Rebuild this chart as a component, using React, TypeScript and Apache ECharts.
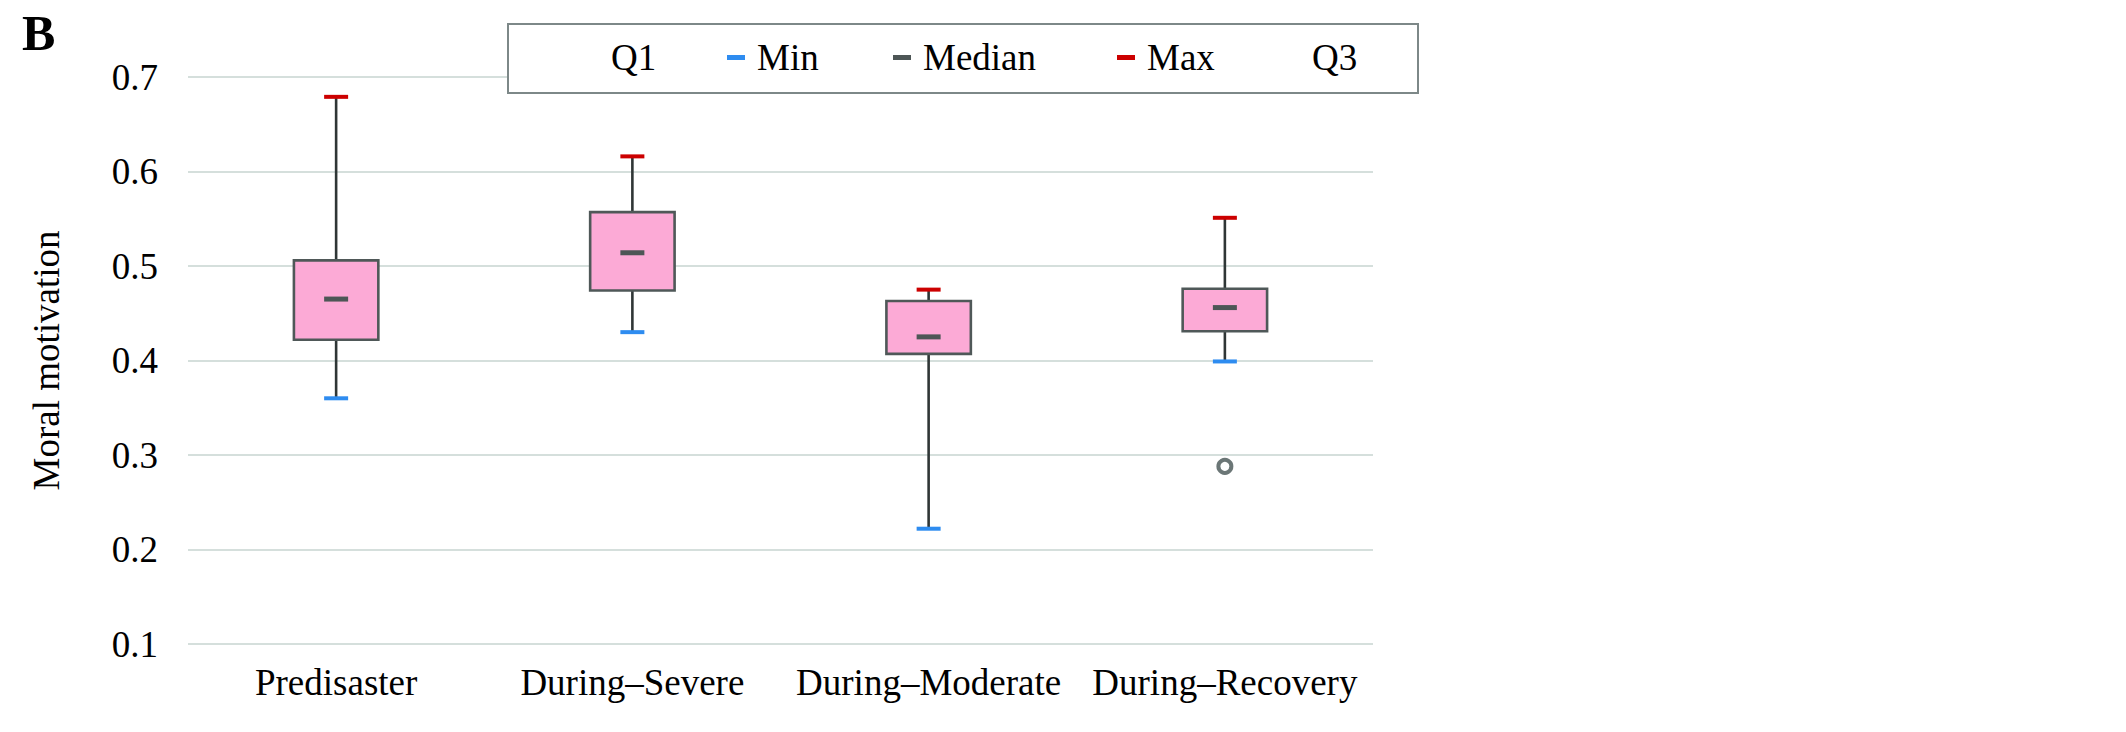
import React, { useEffect, useRef } from 'react';
import * as echarts from 'echarts';

const categories = ['Predisaster', 'During–Severe', 'During–Moderate', 'During–Recovery'];
const minValues = [0.36, 0.43, 0.222, 0.399];
const q1Values = [0.422, 0.474, 0.407, 0.431];
const medianValues = [0.465, 0.514, 0.425, 0.456];
const q3Values = [0.506, 0.557, 0.463, 0.476];
const maxValues = [0.679, 0.616, 0.475, 0.551];
const outlierPoints = [[3, 0.288]];
const yMin = 0.1;
const yMax = 0.7;
const yInterval = 0.1;
const legendNames = ['Q1', 'Min', 'Median', 'Max', 'Q3'];
const legendLefts = [581, 727, 893, 1117, 1282];

const FONT = '"Liberation Serif", "Times New Roman", serif';
const FS = 37;

export default function App() {
  const ref = useRef<HTMLDivElement>(null);
  useEffect(() => {
    if (!ref.current) return;
    const chart = echarts.init(ref.current, undefined, { renderer: 'svg' });

    const legendStyle: any = {
      Q1: { opacity: 0 },
      Min: { color: '#2e8cf0' },
      Median: { color: '#4d5656' },
      Max: { color: '#cc0000' },
      Q3: { opacity: 0 },
    };

    const legends = legendNames.map((name, i) => ({
      left: legendLefts[i],
      top: 39,
      padding: 0,
      z: 5,
      icon: 'rect',
      itemWidth: 18,
      itemHeight: 5,
      selectedMode: false,
      data: [{ name, itemStyle: legendStyle[name] }],
      textStyle: { fontSize: FS, fontFamily: FONT, color: '#000', lineHeight: 36, padding: [0, 0, 0, 7] },
    }));

    const option: any = {
      animation: false,
      backgroundColor: '#fff',
      textStyle: { fontFamily: FONT },
      legend: legends,
      graphic: [
        {
          type: 'rect',
          z: 3,
          shape: { x: 508, y: 24, width: 910, height: 69 },
          style: { fill: '#fff', stroke: '#7d8888', lineWidth: 2 },
        },
        {
          type: 'text',
          x: 22,
          y: 8,
          z: 5,
          style: { text: 'B', font: `bold 50px ${FONT}`, fill: '#000', textVerticalAlign: 'top' },
        },
      ],
      grid: { left: 188, right: 753, top: 77, bottom: 88, containLabel: false },
      xAxis: {
        type: 'category',
        data: categories,
        boundaryGap: true,
        axisLine: { show: false },
        axisTick: { show: false },
        axisLabel: { fontSize: FS, fontFamily: FONT, color: '#000', margin: 20, interval: 0 },
        splitLine: { show: false },
      },
      yAxis: {
        type: 'value',
        min: yMin,
        max: yMax,
        interval: yInterval,
        name: 'Moral motivation',
        nameLocation: 'middle',
        nameGap: 123,
        nameTextStyle: { fontSize: FS, fontFamily: FONT, color: '#000' },
        axisLine: { show: false },
        axisTick: { show: false },
        axisLabel: {
          fontSize: FS,
          fontFamily: FONT,
          color: '#000',
          margin: 30,
          formatter: (v: number) => v.toFixed(1),
        },
        splitLine: { show: true, lineStyle: { color: '#d5dfdc', width: 2 } },
      },
      series: [
        {
          name: 'Q1',
          type: 'custom',
          z: 2,
          data: categories.map((_, i) => [i, minValues[i], q1Values[i], q3Values[i], maxValues[i]]),
          encode: { x: 0, y: [1, 2, 3, 4] },
          renderItem: (params: any, api: any) => {
            const i = api.value(0);
            const pMin = api.coord([i, api.value(1)]);
            const pQ1 = api.coord([i, api.value(2)]);
            const pQ3 = api.coord([i, api.value(3)]);
            const pMax = api.coord([i, api.value(4)]);
            const style = { stroke: '#2f3636', lineWidth: 2.6 };
            return {
              type: 'group',
              children: [
                { type: 'line', shape: { x1: pMin[0], y1: pMin[1], x2: pQ1[0], y2: pQ1[1] }, style },
                { type: 'line', shape: { x1: pQ3[0], y1: pQ3[1], x2: pMax[0], y2: pMax[1] }, style },
              ],
            };
          },
        },
        {
          name: 'Q3',
          type: 'custom',
          z: 3,
          data: categories.map((_, i) => [i, q1Values[i], q3Values[i]]),
          encode: { x: 0, y: [1, 2] },
          renderItem: (params: any, api: any) => {
            const i = api.value(0);
            const lo = api.coord([i, api.value(1)]);
            const hi = api.coord([i, api.value(2)]);
            const w = api.size([1, 0])[0] * 0.285;
            return {
              type: 'rect',
              shape: { x: lo[0] - w / 2, y: hi[1], width: w, height: lo[1] - hi[1] },
              style: { fill: '#fcaad6', stroke: '#4f5858', lineWidth: 2.6 },
            };
          },
        },
        {
          name: 'Min',
          type: 'scatter',
          z: 4,
          symbol: 'rect',
          symbolSize: [24, 4],
          itemStyle: { color: '#2e8cf0', opacity: 1 },
          data: minValues,
        },
        {
          name: 'Median',
          type: 'scatter',
          z: 4,
          symbol: 'rect',
          symbolSize: [24, 5],
          itemStyle: { color: '#4d5656', opacity: 1 },
          data: medianValues,
        },
        {
          name: 'Max',
          type: 'scatter',
          z: 4,
          symbol: 'rect',
          symbolSize: [24, 4],
          itemStyle: { color: '#cc0000', opacity: 1 },
          data: maxValues,
        },
        {
          name: 'Outlier',
          type: 'scatter',
          z: 4,
          symbol: 'circle',
          symbolSize: 13,
          itemStyle: { color: '#fff', borderColor: '#6b7676', borderWidth: 4, opacity: 1 },
          data: outlierPoints,
        },
      ],
    };
    chart.setOption(option);
    return () => chart.dispose();
  }, []);
  return (
    <div
      ref={ref}
      style={{ position: 'fixed', left: 0, top: 0, width: 2126, height: 732, background: '#fff' }}
    />
  );
}
